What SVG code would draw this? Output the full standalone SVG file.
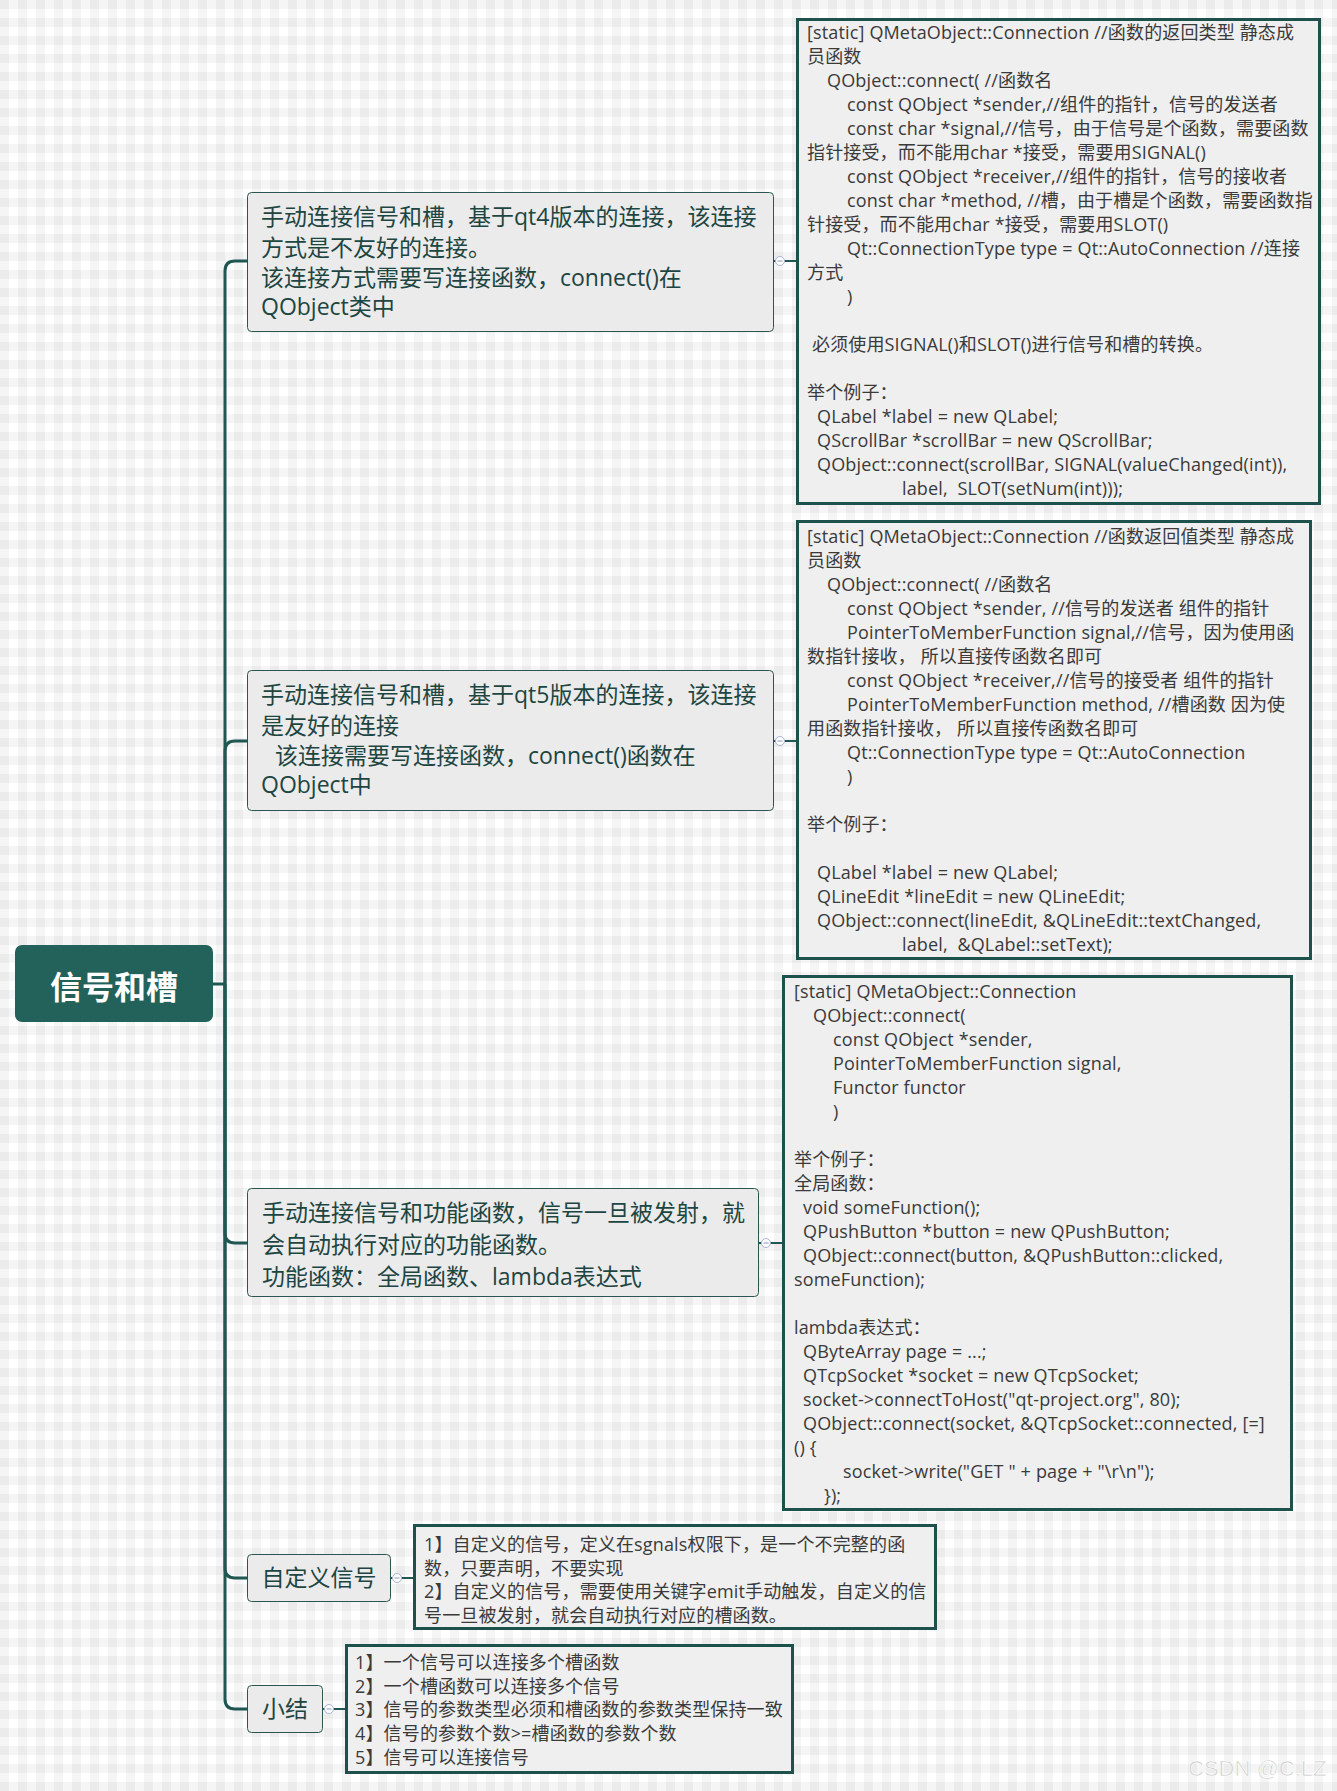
<svg xmlns="http://www.w3.org/2000/svg" width="1337" height="1791" viewBox="0 0 1337 1791">
<defs>
<pattern id="bg" width="18" height="18" patternUnits="userSpaceOnUse">
<rect width="18" height="18" fill="#ffffff"/>
<rect width="9" height="18" fill="#000" fill-opacity="0.04"/>
<rect width="18" height="9" fill="#000" fill-opacity="0.04"/>
</pattern>
<style>
.t{font-family:"Open Sans","Noto Sans CJK SC",sans-serif;white-space:pre}
.d{font-size:18px;fill:#3a3a3a;letter-spacing:0.15px}
.n{font-size:23px;fill:#1d4541}
.box{fill:#efefef;stroke:#1e514c;stroke-width:3}
.node{fill:#ebebeb;stroke:#2b5550;stroke-width:1}
.br{fill:none;stroke:#1f5752;stroke-width:3}
.lk{fill:none;stroke:#1f5752;stroke-width:2}
.cc{fill:#ffffff;stroke:#aab3d4;stroke-width:1}
.cm{stroke:#8a94b8;stroke-width:1}
</style>
</defs>
<rect width="1337" height="1791" fill="url(#bg)"/>

<g id="connectors">
<path class="br" d="M213,984 H225"/>
<path class="br" d="M225,984 V271 Q225,261 235,261 H248"/>
<path class="br" d="M225,984 V751 Q225,741 235,741 H248"/>
<path class="br" d="M225,984 V1233 Q225,1243 235,1243 H248"/>
<path class="br" d="M225,984 V1568 Q225,1578 235,1578 H248"/>
<path class="br" d="M225,984 V1699 Q225,1709 235,1709 H248"/>
<path class="lk" d="M773,261 H797"/>
<path class="lk" d="M773,741 H797"/>
<path class="lk" d="M759,1243 H783"/>
<path class="lk" d="M391,1578 H414"/>
<path class="lk" d="M323,1709 H346"/>
<circle class="cc" cx="780" cy="261" r="4.5"/><path class="cm" d="M777.5,261 H782.5"/>
<circle class="cc" cx="780" cy="741" r="4.5"/><path class="cm" d="M777.5,741 H782.5"/>
<circle class="cc" cx="766" cy="1243" r="4.5"/><path class="cm" d="M763.5,1243 H768.5"/>
<circle class="cc" cx="397" cy="1578" r="4.5"/><path class="cm" d="M394.5,1578 H399.5"/>
<circle class="cc" cx="329" cy="1709" r="4.5"/><path class="cm" d="M326.5,1709 H331.5"/>
</g>

<g id="root">
<rect x="15" y="945" width="198" height="77" rx="7" fill="#23625b"/>
<text class="t" x="114" y="999" text-anchor="middle" font-size="32" font-weight="bold" fill="#ffffff">信号和槽</text>
</g>

<g id="node-qt4">
<rect class="node" x="247.5" y="192.5" width="526" height="139" rx="4"/>
<text class="t n" x="261" y="225">手动连接信号和槽，基于qt4版本的连接，该连接</text>
<text class="t n" x="261" y="256">方式是不友好的连接。</text>
<text class="t n" x="261" y="286">该连接方式需要写连接函数，connect()在</text>
<text class="t n" x="261" y="315">QObject类中</text>
</g>

<g id="detail-qt4">
<rect class="box" x="797.5" y="19.5" width="522" height="484"/>
<text class="t d" x="807" y="39">[static] QMetaObject::Connection //函数的返回类型 静态成</text>
<text class="t d" x="807" y="63">员函数</text>
<text class="t d" x="827" y="87">QObject::connect( //函数名</text>
<text class="t d" x="847" y="111">const QObject *sender,//组件的指针，信号的发送者</text>
<text class="t d" x="847" y="135">const char *signal,//信号，由于信号是个函数，需要函数</text>
<text class="t d" x="807" y="159">指针接受，而不能用char *接受，需要用SIGNAL()</text>
<text class="t d" x="847" y="183">const QObject *receiver,//组件的指针，信号的接收者</text>
<text class="t d" x="847" y="207">const char *method, //槽，由于槽是个函数，需要函数指</text>
<text class="t d" x="807" y="231">针接受，而不能用char *接受，需要用SLOT()</text>
<text class="t d" x="847" y="255">Qt::ConnectionType type = Qt::AutoConnection //连接</text>
<text class="t d" x="807" y="279">方式</text>
<text class="t d" x="847" y="303">)</text>
<text class="t d" x="812" y="351">必须使用SIGNAL()和SLOT()进行信号和槽的转换。</text>
<text class="t d" x="807" y="399">举个例子：</text>
<text class="t d" x="817" y="423">QLabel *label = new QLabel;</text>
<text class="t d" x="817" y="447">QScrollBar *scrollBar = new QScrollBar;</text>
<text class="t d" x="817" y="471">QObject::connect(scrollBar, SIGNAL(valueChanged(int)),</text>
<text class="t d" x="902" y="495">label,  SLOT(setNum(int)));</text>
</g>

<g id="node-qt5">
<rect class="node" x="247.5" y="670.5" width="526" height="140" rx="4"/>
<text class="t n" x="261" y="703">手动连接信号和槽，基于qt5版本的连接，该连接</text>
<text class="t n" x="261" y="734">是友好的连接</text>
<text class="t n" x="275" y="764">该连接需要写连接函数，connect()函数在</text>
<text class="t n" x="261" y="793">QObject中</text>
</g>

<g id="detail-qt5">
<rect class="box" x="797.5" y="521.5" width="513" height="437"/>
<text class="t d" x="807" y="543">[static] QMetaObject::Connection //函数返回值类型 静态成</text>
<text class="t d" x="807" y="567">员函数</text>
<text class="t d" x="827" y="591">QObject::connect( //函数名</text>
<text class="t d" x="847" y="615">const QObject *sender, //信号的发送者 组件的指针</text>
<text class="t d" x="847" y="639">PointerToMemberFunction signal,//信号，因为使用函</text>
<text class="t d" x="807" y="663">数指针接收， 所以直接传函数名即可</text>
<text class="t d" x="847" y="687">const QObject *receiver,//信号的接受者 组件的指针</text>
<text class="t d" x="847" y="711">PointerToMemberFunction method, //槽函数 因为使</text>
<text class="t d" x="807" y="735">用函数指针接收， 所以直接传函数名即可</text>
<text class="t d" x="847" y="759">Qt::ConnectionType type = Qt::AutoConnection</text>
<text class="t d" x="847" y="783">)</text>
<text class="t d" x="807" y="831">举个例子：</text>
<text class="t d" x="817" y="879">QLabel *label = new QLabel;</text>
<text class="t d" x="817" y="903">QLineEdit *lineEdit = new QLineEdit;</text>
<text class="t d" x="817" y="927">QObject::connect(lineEdit, &amp;QLineEdit::textChanged,</text>
<text class="t d" x="902" y="951">label,  &amp;QLabel::setText);</text>
</g>

<g id="node-functor">
<rect class="node" x="247.5" y="1188.5" width="511" height="108" rx="4"/>
<text class="t n" x="262" y="1221">手动连接信号和功能函数，信号一旦被发射，就</text>
<text class="t n" x="262" y="1253">会自动执行对应的功能函数。</text>
<text class="t n" x="262" y="1285">功能函数：全局函数、lambda表达式</text>
</g>

<g id="detail-functor">
<rect class="box" x="783.5" y="976.5" width="508" height="533"/>
<text class="t d" x="794" y="998">[static] QMetaObject::Connection</text>
<text class="t d" x="813" y="1022">QObject::connect(</text>
<text class="t d" x="833" y="1046">const QObject *sender,</text>
<text class="t d" x="833" y="1070">PointerToMemberFunction signal,</text>
<text class="t d" x="833" y="1094">Functor functor</text>
<text class="t d" x="833" y="1118">)</text>
<text class="t d" x="794" y="1166">举个例子：</text>
<text class="t d" x="794" y="1190">全局函数：</text>
<text class="t d" x="803" y="1214">void someFunction();</text>
<text class="t d" x="803" y="1238">QPushButton *button = new QPushButton;</text>
<text class="t d" x="803" y="1262">QObject::connect(button, &amp;QPushButton::clicked,</text>
<text class="t d" x="794" y="1286">someFunction);</text>
<text class="t d" x="794" y="1334">lambda表达式：</text>
<text class="t d" x="803" y="1358">QByteArray page = ...;</text>
<text class="t d" x="803" y="1382">QTcpSocket *socket = new QTcpSocket;</text>
<text class="t d" x="803" y="1406">socket-&gt;connectToHost("qt-project.org", 80);</text>
<text class="t d" x="803" y="1430">QObject::connect(socket, &amp;QTcpSocket::connected, [=]</text>
<text class="t d" x="794" y="1454">() {</text>
<text class="t d" x="843" y="1478">socket-&gt;write("GET " + page + "\r\n");</text>
<text class="t d" x="824" y="1502">});</text>
</g>

<g id="node-custom-signal">
<rect class="node" x="247.5" y="1554.5" width="143" height="47" rx="4"/>
<text class="t n" x="319" y="1586" text-anchor="middle">自定义信号</text>
</g>

<g id="detail-custom-signal">
<rect class="box" x="414.5" y="1525.5" width="521" height="103"/>
<text class="t d" x="424" y="1551">1】自定义的信号，定义在sgnals权限下，是一个不完整的函</text>
<text class="t d" x="424" y="1575">数，只要声明，不要实现</text>
<text class="t d" x="424" y="1598">2】自定义的信号，需要使用关键字emit手动触发，自定义的信</text>
<text class="t d" x="424" y="1622">号一旦被发射，就会自动执行对应的槽函数。</text>
</g>

<g id="node-summary">
<rect class="node" x="247.5" y="1685.5" width="75" height="47" rx="4"/>
<text class="t n" x="285" y="1717" text-anchor="middle">小结</text>
</g>

<g id="detail-summary">
<rect class="box" x="346.5" y="1645.5" width="446" height="127"/>
<text class="t d" x="355" y="1669">1】一个信号可以连接多个槽函数</text>
<text class="t d" x="355" y="1693">2】一个槽函数可以连接多个信号</text>
<text class="t d" x="355" y="1716">3】信号的参数类型必须和槽函数的参数类型保持一致</text>
<text class="t d" x="355" y="1740">4】信号的参数个数&gt;=槽函数的参数个数</text>
<text class="t d" x="355" y="1764">5】信号可以连接信号</text>
</g>

<text x="1188" y="1776" font-family="Liberation Sans, sans-serif" font-size="22" fill="#cfcfcf" stroke="#ffffff" stroke-width="0.6">CSDN @C.LZ</text>
</svg>
